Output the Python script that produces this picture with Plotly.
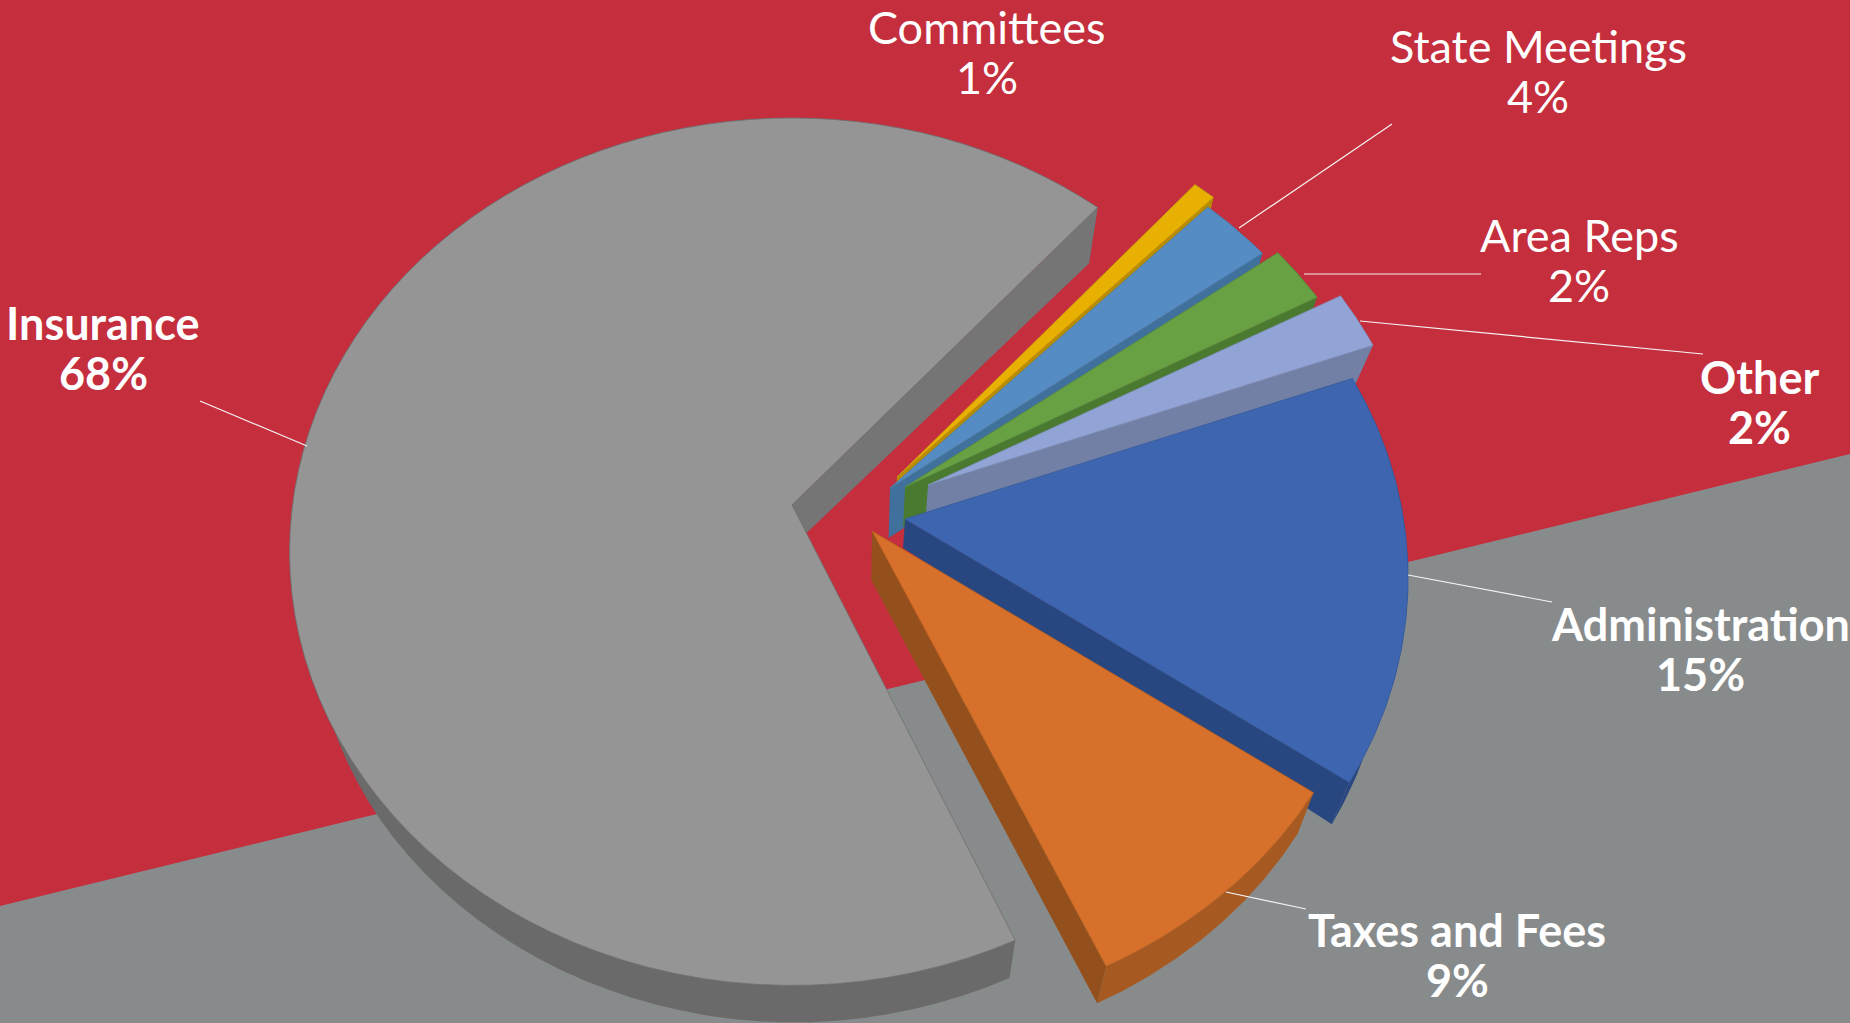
import numpy as np
import plotly.graph_objects as go

# ---- data ----
categories = ["Insurance", "Committees", "State Meetings", "Area Reps", "Other", "Administration", "Taxes and Fees"]
percent_labels = [68, 1, 4, 2, 2, 15, 9]
# visible sweep of each slice in the drawing, percent of the full turn
visible_shares = [68.1, 0.85, 2.65, 2.25, 2.25, 15.2, 8.5]

# ---- styles ----
face_colors = ["#959595", "#e8b000", "#548cc3", "#68a044", "#92a3d6", "#3e66b0", "#d6702b"]
radial_wall_colors = ["#757575", "#b88c00", "#40719c", "#4a7a30", "#7280a6", "#284680", "#93501c"]
arc_wall_colors = ["#6a6a6a", "#b88c00", "#40719c", "#4a7a30", "#7280a6", "#284680", "#a65a22"]
edge_colors = ["#6f6f6f", "#c49a10", "#4a7cab", "#5b8c3c", "#8090bc", "#35599c", "#b9611f"]
bold_flags = [True, False, False, False, True, True, True]

# explosion of each slice: where its point sits on the canvas, size and wall depth at the point
apex_x = [792, 897, 890, 905, 928, 905, 872]
apex_y = [505, 477, 488, 487, 485, 519, 531]
radius_scale = [0.997, 0.975, 0.98, 0.98, 0.98, 0.995, 1.005]
radius_tilt = [0, 0, 0, 0, 0, -0.028, 0]
apex_depth = [40, 40, 50, 40, 40, 29, 49]

label_x = [103, 987, 1538, 1579, 1759, 1700, 1457]
label_y = [348, 52, 71, 260, 402, 649, 955]
leader_lines = [
    (200, 401, 307, 446), (1392, 124, 1239, 228), (1304, 274, 1481, 274),
    (1360, 321, 1703, 354), (1408, 575, 1552, 602), (1226, 892, 1306, 909),
]

RED = "#c42e3d"
GREY = "#888b8b"
START_ANGLE = 48.9     # degrees, where the slices after Insurance begin, running clockwise
INSURANCE_END = 48.6   # degrees, where the Insurance slice closes
RX, RY, K = 501.0, 430.0, 0.108
LINE_GAP = 25


def project(ax, ay, scale, tilt, theta):
    r = scale + tilt * np.sin(theta)
    u, v = r * np.cos(theta), r * np.sin(theta)
    s = 1.0 / (1.0 + K * v)
    return ax + RX * u * s, ay - RY * v * s


def lower(x, y):
    dx = -0.035 * (x - 850.0)
    dy = np.interp(y, [207, 347, 780, 966], [56, 40, 42, 37])
    return x + dx, y + dy


def slice_traces(i, a0, a1):
    thetas = np.radians(np.linspace(a0, a1, 90))
    ax, ay = apex_x[i], apex_y[i]
    x, y = project(ax, ay, radius_scale[i], radius_tilt[i], thetas)
    xb, yb = lower(x, y)
    axb, ayb = ax - 0.035 * (ax - 850.0), ay + apex_depth[i]
    out = []
    # outer wall
    out.append(go.Scatter(
        x=np.r_[x, xb[::-1], x[0]], y=np.r_[y, yb[::-1], y[0]],
        fill="toself", fillcolor=arc_wall_colors[i], mode="lines", line=dict(width=0),
        name=categories[i] + " rim", hoverinfo="skip", showlegend=False))
    # the one cut wall that faces the viewer, at the clockwise end of the slice
    rx = [ax, x[-1], xb[-1], axb, ax]
    ry = [ay, y[-1], yb[-1], ayb, ay]
    out.append(go.Scatter(
        x=rx, y=ry, fill="toself", fillcolor=radial_wall_colors[i], mode="lines", line=dict(width=0),
        name=categories[i] + " wall", hoverinfo="skip", showlegend=False))
    # top face
    out.append(go.Scatter(
        x=np.r_[ax, x, ax], y=np.r_[ay, y, ay],
        fill="toself", fillcolor=face_colors[i], mode="lines",
        line=dict(width=0.8, color=edge_colors[i]),
        name=categories[i], text=f"{categories[i]} {percent_labels[i]}%",
        hoverinfo="text", showlegend=False))
    return out


# sweep limits, clockwise from START_ANGLE; Insurance closes the turn
limits = {}
angle = START_ANGLE
for idx in range(1, len(categories)):
    limits[idx] = (angle, angle - visible_shares[idx] * 3.6)
    angle = limits[idx][1]
limits[0] = (INSURANCE_END - 360 + visible_shares[0] * 3.6, INSURANCE_END - 360)

fig = go.Figure()
for idx in [1, 2, 3, 4, 5, 6, 0]:
    for tr in slice_traces(idx, *limits[idx]):
        fig.add_trace(tr)

shapes = [
    dict(type="rect", xref="x", yref="y", x0=0, x1=1850, y0=0, y1=1023,
         fillcolor=RED, line_width=0, layer="below"),
    dict(type="path", xref="x", yref="y", path="M 0 906 L 1850 454 L 1850 1023 L 0 1023 Z",
         fillcolor=GREY, line_width=0, layer="below"),
]
for x0, y0, x1, y1 in leader_lines:
    shapes.append(dict(type="line", xref="x", yref="y", x0=x0, y0=y0, x1=x1, y1=y1,
                       line=dict(color="#f4f4f4", width=1.2), layer="above"))

annotations = []
for i, name in enumerate(categories):
    lines = [name, f"{percent_labels[i]}%"]
    for j, line_text in enumerate(lines):
        txt = f"<b>{line_text}</b>" if bold_flags[i] else line_text
        annotations.append(dict(x=label_x[i], y=label_y[i] + (2 * j - 1) * LINE_GAP, xref="x", yref="y",
                                text=txt, showarrow=False, align="center",
                                xanchor="center", yanchor="middle",
                                font=dict(family="Lato", size=45, color="white")))

fig.update_layout(
    width=1850, height=1023, margin=dict(l=0, r=0, t=0, b=0),
    paper_bgcolor=RED, plot_bgcolor=RED, showlegend=False,
    xaxis=dict(range=[0, 1850], visible=False, fixedrange=True),
    yaxis=dict(range=[1023, 0], visible=False, fixedrange=True),
    shapes=shapes, annotations=annotations,
)
fig.write_html("out.html", post_script="document.body.style.margin='0';document.body.style.overflow='hidden';",
               config={"displayModeBar": False})
